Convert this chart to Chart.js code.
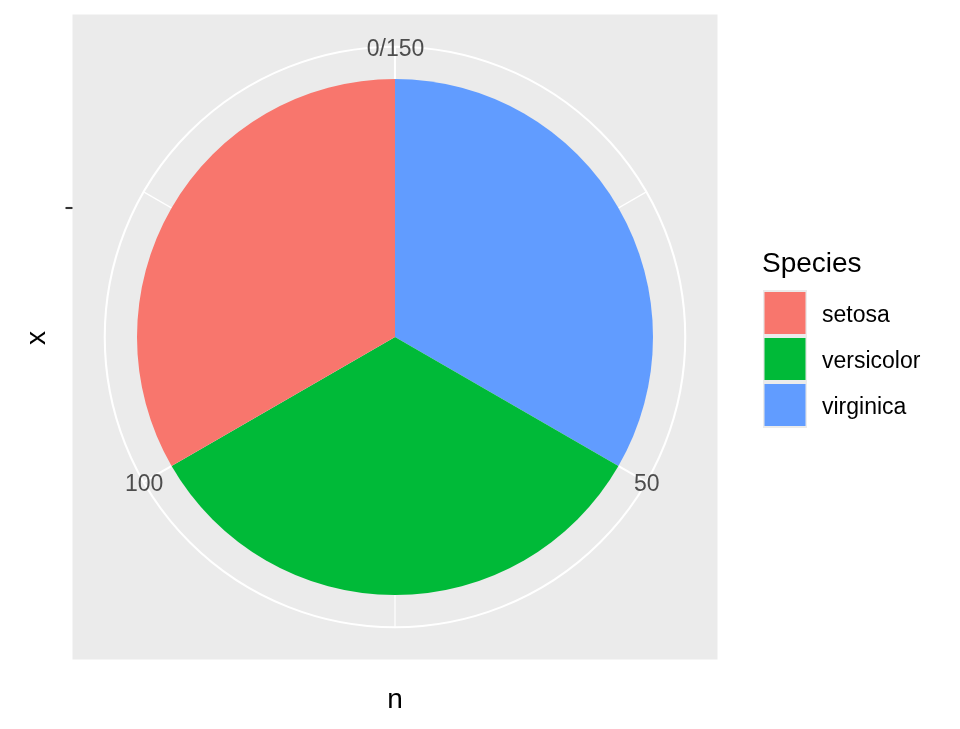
<!DOCTYPE html>
<html>
<head>
<meta charset="utf-8">
<script src="https://cdn.jsdelivr.net/npm/chart.js@4.4.1/dist/chart.umd.min.js"></script>
<style>
  html, body { margin: 0; padding: 0; background: #ffffff; }
  #wrap { width: 960px; height: 729px; position: relative; }
</style>
</head>
<body>
<div id="wrap"><canvas id="c" width="960" height="729"></canvas></div>
<script>
// ---- data ----
const species = ['setosa', 'versicolor', 'virginica'];
const counts = [50, 50, 50];
const speciesColors = ['#F8766D', '#00BA38', '#619CFF'];
const thetaMajorTicks = [0, 50, 100];
const thetaTickLabels = ['0/150', '50', '100'];
const thetaMinorTicks = [25, 75, 125];
const legendTitle = 'Species';
const xTitle = 'x';
const yTitle = 'n';

// ggplot stacks the last level at the bottom (theta starts at 0 with virginica)
const pieLabels = species.slice().reverse();
const pieValues = counts.slice().reverse();
const pieColors = speciesColors.slice().reverse();
const total = counts.reduce((a, b) => a + b, 0);

const FONT = '"Liberation Sans", Arial, sans-serif';

const ggPolar = {
  id: 'ggPolar',
  beforeDatasetsDraw(chart) {
    const ctx = chart.ctx;
    const arc = chart.getDatasetMeta(0).data[0];
    const cx = arc.x, cy = arc.y, R = arc.outerRadius;
    const unit = R / 0.4;           // ggplot polar units
    const rOuter = 0.45 * unit;
    const half = 0.5 * unit;
    ctx.save();
    // panel
    ctx.fillStyle = '#EBEBEB';
    ctx.fillRect(cx - half, cy - half, 2 * half, 2 * half);
    ctx.strokeStyle = '#FFFFFF';
    // minor theta grid
    ctx.lineWidth = 1.2;
    thetaMinorTicks.forEach(v => {
      const a = v / total * 2 * Math.PI;
      ctx.beginPath();
      ctx.moveTo(cx, cy);
      ctx.lineTo(cx + rOuter * Math.sin(a), cy - rOuter * Math.cos(a));
      ctx.stroke();
    });
    // major theta grid
    ctx.lineWidth = 2.1;
    thetaMajorTicks.forEach(v => {
      const a = v / total * 2 * Math.PI;
      ctx.beginPath();
      ctx.moveTo(cx, cy);
      ctx.lineTo(cx + rOuter * Math.sin(a), cy - rOuter * Math.cos(a));
      ctx.stroke();
    });
    // outer circle
    ctx.beginPath();
    ctx.arc(cx, cy, rOuter, 0, 2 * Math.PI);
    ctx.stroke();
    ctx.restore();
  },
  afterDraw(chart) {
    const ctx = chart.ctx;
    const arc = chart.getDatasetMeta(0).data[0];
    const cx = arc.x, cy = arc.y, R = arc.outerRadius;
    const unit = R / 0.4;
    const rOuter = 0.45 * unit;
    const half = 0.5 * unit;
    ctx.save();
    // theta labels
    ctx.font = '23px ' + FONT;
    ctx.fillStyle = '#4D4D4D';
    ctx.textAlign = 'center';
    ctx.textBaseline = 'middle';
    thetaMajorTicks.forEach((v, i) => {
      const a = v / total * 2 * Math.PI;
      ctx.fillText(thetaTickLabels[i], cx + rOuter * Math.sin(a) + 0.5, cy - rOuter * Math.cos(a) + 3);
    });
    // r-axis tick (single discrete level x = 1 -> r = 0.2)
    const ty = cy - 0.2 * unit;
    ctx.strokeStyle = '#333333';
    ctx.lineWidth = 2.1;
    ctx.beginPath();
    ctx.moveTo(cx - half - 7, ty);
    ctx.lineTo(cx - half, ty);
    ctx.stroke();
    // axis titles
    ctx.fillStyle = '#000000';
    ctx.font = '28px ' + FONT;
    ctx.fillText(yTitle, cx, cy + half + 41);
    ctx.save();
    ctx.translate(cx - half - 35, cy + 1);
    ctx.rotate(-Math.PI / 2);
    ctx.fillText(xTitle, 0, 0);
    ctx.restore();
    // legend
    const lx = 763, ly = 290, keyW = 44, keyH = 46;
    ctx.textAlign = 'left';
    ctx.textBaseline = 'alphabetic';
    ctx.font = '28px ' + FONT;
    ctx.fillText(legendTitle, 762, 272);
    ctx.font = '23px ' + FONT;
    ctx.textBaseline = 'middle';
    species.forEach((s, i) => {
      const y = ly + i * keyH;
      ctx.fillStyle = '#EBEBEB';
      ctx.fillRect(lx, y, keyW, keyH);
      ctx.fillStyle = speciesColors[i];
      ctx.fillRect(lx + 1.5, y + 2, keyW - 3, keyH - 4);
      ctx.fillStyle = '#000000';
      ctx.fillText(s, 822, y + keyH / 2 + 3);
    });
    ctx.restore();
  }
};

new Chart(document.getElementById('c'), {
  type: 'pie',
  data: {
    labels: pieLabels,
    datasets: [{
      data: pieValues,
      backgroundColor: pieColors,
      borderWidth: 0,
      hoverOffset: 0,
      offset: 0
    }]
  },
  options: {
    responsive: false,
    animation: false,
    events: [],
    devicePixelRatio: 1,
    layout: { padding: { left: 137, right: 307, top: 79, bottom: 134 } },
    plugins: {
      legend: { display: false },
      tooltip: { enabled: false },
      title: { display: false }
    }
  },
  plugins: [ggPolar]
});
</script>
</body>
</html>
